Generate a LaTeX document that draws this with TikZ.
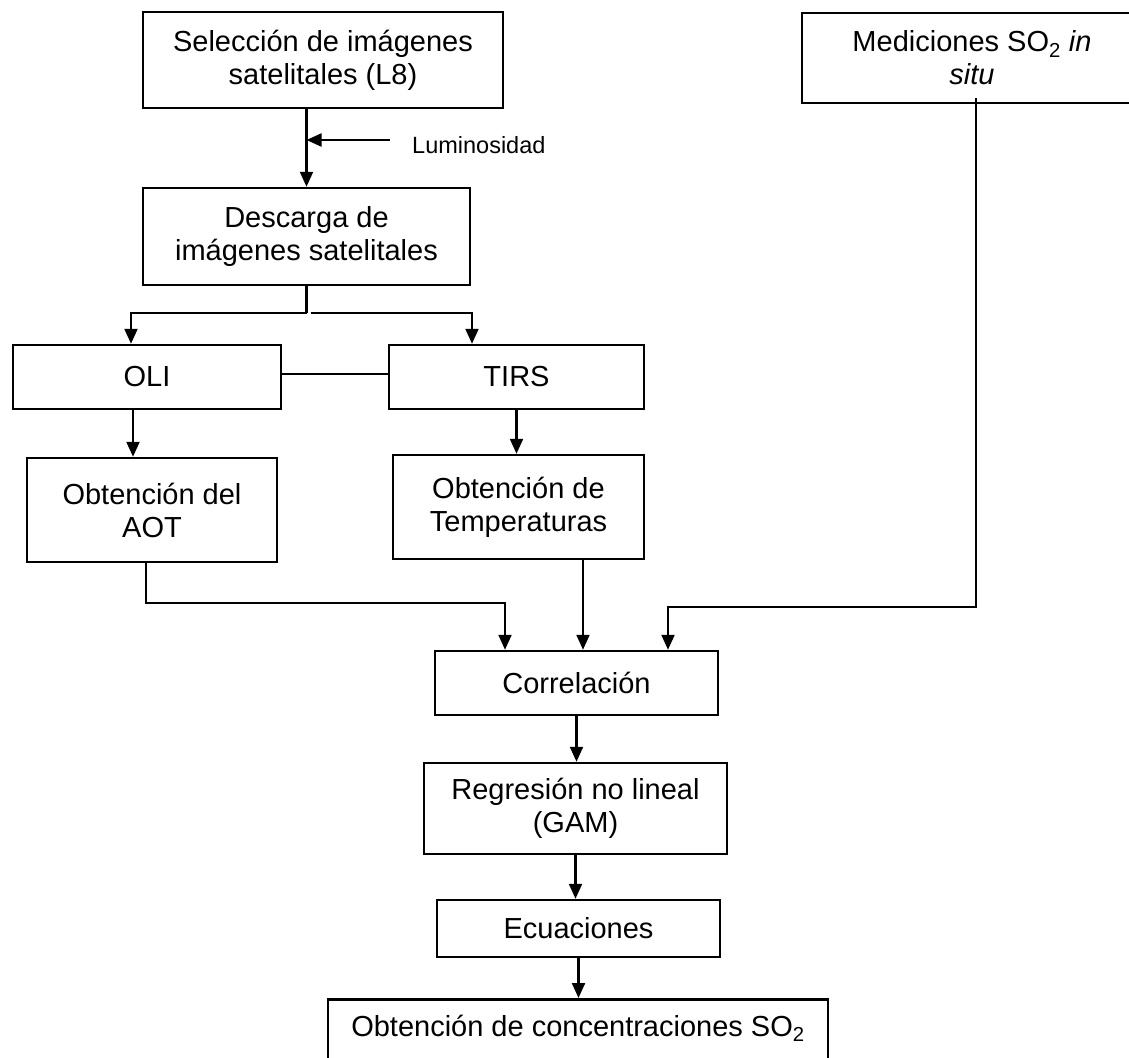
\documentclass[tikz,border=0pt]{standalone}
\usepackage{fontspec}
\setmainfont{Liberation Sans}
\usetikzlibrary {arrows.meta}
\usetikzlibrary{calc}

\begin{document}
\begin{tikzpicture}[x=1pt, y=-1pt,
	caja/.style={draw, line width=2.5pt, align=center, inner sep=0pt, font=\fontsize{29}{33}\selectfont},
	flecha/.style={line width=2.2pt, -{Triangle[length=15pt, width=13pt]}},
	linea/.style={line width=2.2pt}]
	\useasboundingbox (0, 0) rectangle (1129, 1057);

	\node[caja, minimum width=360, minimum height=96] (sel) at (323, 60) {Selección de imágenes\\satelitales (L8)};
	\node[caja, minimum width=340, minimum height=90] (med) at (972, 58) {Mediciones SO\textsubscript{2} \textit{in}\\\textit{situ}};
	\node[caja, minimum width=327, minimum height=97] (desc) at (306.5, 236.5) {Descarga de\\imágenes satelitales};
	\node[caja, minimum width=268, minimum height=64] (oli) at (147, 377) {OLI};
	\node[caja, minimum width=255, minimum height=64] (tirs) at (516.5, 377) {TIRS};
	\node[caja, minimum width=250, minimum height=104] (aot) at (152, 510) {Obtención del\\AOT};
	\node[caja, minimum width=251, minimum height=104] (temp) at (518.5, 507) {Obtención de\\Temperaturas};
	\node[caja, minimum width=283, minimum height=64] (corr) at (576.5, 683) {Correlación};
	\node[caja, minimum width=303, minimum height=91] (reg) at (575.5, 808.5) {Regresión no lineal\\(GAM)};
	\node[caja, minimum width=283, minimum height=57] (ecu) at (578.5, 928.5) {Ecuaciones};
	\node[caja, anchor=north, minimum width=500, text height=37pt, text depth=50pt] (conc) at (578, 998) {Obtención de concentraciones SO\textsubscript{2}};% cut at the bottom

	\node[font=\fontsize{23.5}{28}\selectfont, inner sep=0pt, anchor=west] (lum) at (412, 145) {Luminosidad};
	\coordinate (lumcola) at ([xshift=-22pt, yshift=5pt]lum.west);

	\draw[flecha] (sel.south -| desc.north) -- (desc.north);
	\draw[flecha] (lumcola) -- (lumcola -| desc.north);

	\draw[linea] (desc.south) -- ++(0, 27) coordinate (rama);
	\draw[flecha] (rama) -| ([xshift=-16pt]oli.north);
	\draw[flecha] ([xshift=4pt]rama) -| ([xshift=-44.5pt]tirs.north);
	\draw[linea] ([yshift=3pt]oli.east) -- ([yshift=3pt]tirs.west);

	\draw[flecha] ([xshift=-14pt]oli.south) -- ([xshift=-14pt]oli.south |- aot.north);
	\draw[flecha] (tirs.south) -- (tirs.south |- temp.north);

	\draw[flecha] ([xshift=-6pt]aot.south) -- ++(0, 40) -| ([xshift=-71.5pt]corr.north);
	\draw[flecha] ([xshift=64.5pt]temp.south) -- ([xshift=64.5pt]temp.south |- corr.north);
	\draw[flecha] ([xshift=4pt, yshift=6pt]med.south) -- ++(0, 509) -| ([xshift=91.5pt]corr.north);

	\draw[flecha] (corr.south) -- (corr.south |- reg.north);
	\draw[flecha] (reg.south) -- (reg.south |- ecu.north);
	\draw[flecha] (ecu.south) -- (ecu.south |- conc.north);
\end{tikzpicture}
\end{document}
